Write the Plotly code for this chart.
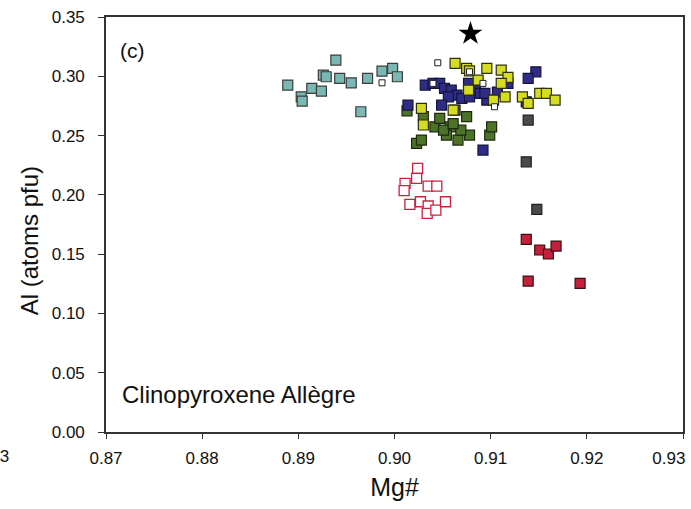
import plotly.graph_objects as go

# ---- data (Mg#, Al atoms pfu) ----
cyan_x = [0.8889, 0.8939, 0.8926, 0.8929, 0.8943, 0.8955, 0.8914, 0.8924, 0.8903, 0.8904,
          0.8972, 0.8987, 0.8998, 0.9003, 0.8965]
cyan_y = [0.2926, 0.3137, 0.3010, 0.2996, 0.2982, 0.2945, 0.2898, 0.2875, 0.2827, 0.2791,
          0.2982, 0.3044, 0.3067, 0.2996, 0.2701]

olive_x = [0.9013, 0.9030, 0.9042, 0.9047, 0.9063, 0.9075, 0.9058, 0.9054, 0.9066, 0.9078,
           0.9099, 0.9101, 0.9023, 0.9028, 0.9051, 0.9069, 0.9061]
olive_y = [0.2709, 0.2659, 0.2574, 0.2645, 0.2715, 0.2659, 0.2574, 0.2504, 0.2462, 0.2504,
           0.2504, 0.2574, 0.2434, 0.2462, 0.2546, 0.2546, 0.2600]

navy_x = [0.9032, 0.9040, 0.9047, 0.9052, 0.9059, 0.9065, 0.9070, 0.9078, 0.9084, 0.9089,
          0.9096, 0.9056, 0.9014, 0.9049, 0.9077, 0.9147, 0.9139, 0.9137, 0.9118, 0.9094,
          0.9092, 0.9107]
navy_y = [0.2926, 0.2940, 0.2940, 0.2898, 0.2884, 0.2841, 0.2814, 0.2827, 0.2884, 0.2856,
          0.2799, 0.2827, 0.2757, 0.2757, 0.2940, 0.3038, 0.2982, 0.2785, 0.2940, 0.2856,
          0.2378, 0.2867]

yellow_x = [0.9063, 0.9075, 0.9078, 0.9096, 0.9111, 0.9118, 0.9111, 0.9115, 0.9103, 0.9133,
            0.9151, 0.9158, 0.9167, 0.9139, 0.9077, 0.9061, 0.9028, 0.9030, 0.9087]
yellow_y = [0.3109, 0.3067, 0.3046, 0.3067, 0.3052, 0.2991, 0.2940, 0.2827, 0.2799, 0.2827,
            0.2856, 0.2856, 0.2799, 0.2772, 0.2884, 0.2715, 0.2729, 0.2589, 0.2968]

gray_x = [0.9139, 0.9137, 0.9148]
gray_y = [0.2631, 0.2279, 0.1878]

redopen_x = [0.9024, 0.9023, 0.9011, 0.9010, 0.9035, 0.9044, 0.9016, 0.9027, 0.9035, 0.9034,
             0.9043, 0.9053]
redopen_y = [0.2223, 0.2139, 0.2097, 0.2035, 0.2074, 0.2074, 0.1920, 0.1942, 0.1906, 0.1844,
             0.1872, 0.1942]

redfill_x = [0.9137, 0.9151, 0.9160, 0.9168, 0.9139, 0.9193]
redfill_y = [0.1625, 0.1535, 0.1501, 0.1568, 0.1273, 0.1254]

small_x = [0.8987, 0.9045, 0.9040, 0.9078, 0.9092, 0.9104]
small_y = [0.2945, 0.3114, 0.2940, 0.3038, 0.2940, 0.2743]

star_x = [0.9079]
star_y = [0.3360]

x_ticks = [0.87, 0.88, 0.89, 0.90, 0.91, 0.92, 0.93]
x_ticklabels = ["0.87", "0.88", "0.89", "0.90", "0.91", "0.92", "0.93" + "\u00a0" * 6]
y_ticks = [0.00, 0.05, 0.10, 0.15, 0.20, 0.25, 0.30, 0.35]
y_ticklabels = ["0.00", "0.05", "0.10", "0.15", "0.20", "0.25", "0.30", "0.35"]

FONT = "Liberation Sans, Arial, sans-serif"

fig = go.Figure()

def add(x, y, fill, edge, size=10, width=1.2, symbol="square"):
    fig.add_trace(go.Scatter(
        x=x, y=y, mode="markers", showlegend=False, hoverinfo="x+y", cliponaxis=False,
        marker=dict(symbol=symbol, size=size, color=fill,
                    line=dict(color=edge, width=width))))

add(cyan_x, cyan_y, "#79b8b3", "#3c3c3c")
add(olive_x, olive_y, "#4d7328", "#1e2a10")
add(navy_x, navy_y, "#2e2c86", "#15153a")
add(yellow_x, yellow_y, "#d6dc22", "#2e3010")
add(gray_x, gray_y, "#4a4a4c", "#202020")
add(redopen_x, redopen_y, "#ffffff", "#cc2040", size=10, width=1.3)
add(redfill_x, redfill_y, "#c4203c", "#3a1010")
add(small_x, small_y, "#ffffff", "#202020", size=6, width=1)
add(star_x, star_y, "#000000", "#000000", size=18, width=0, symbol="star")

fig.update_layout(
    width=691, height=509,
    margin=dict(l=106, r=8, t=17, b=77),
    paper_bgcolor="white", plot_bgcolor="white",
    font=dict(family=FONT, color="#111111", size=17),
    xaxis=dict(range=[0.8699999, 0.9300001], tickvals=x_ticks, ticktext=x_ticklabels,
               automargin=False, ticklabeloverflow="allow", ticklabelstandoff=5,
               showgrid=False, zeroline=False, showline=True, linecolor="#333333", linewidth=1.6,
               mirror=True, ticks="outside", ticklen=5, tickcolor="#333333", tickwidth=1.2,
               tickfont=dict(size=17, family=FONT),
               title=dict(text="Mg#", font=dict(size=25, family=FONT), standoff=11)),
    yaxis=dict(range=[0.0, 0.35], tickvals=y_ticks, ticktext=y_ticklabels,
               automargin=False, ticklabelstandoff=10, ticklabeloverflow="allow",
               showgrid=False, zeroline=False, showline=True, linecolor="#333333", linewidth=1.6,
               mirror=True, ticks="outside", ticklen=6, tickcolor="#333333", tickwidth=1.2,
               tickfont=dict(size=17, family=FONT)),
    annotations=[
        dict(text="Al (atoms pfu)", textangle=-90, xref="paper", yref="paper",
             x=-0.133, y=0.46, xanchor="center", yanchor="middle", showarrow=False,
             font=dict(size=24, family=FONT)),
        dict(text="(c)", xref="paper", yref="paper", x=0.02, y=0.92, xanchor="left",
             yanchor="middle", showarrow=False, font=dict(size=21, family=FONT)),
        dict(text="Clinopyroxene Allègre", xref="paper", yref="paper", x=0.024, y=0.09,
             xanchor="left", yanchor="middle", showarrow=False, font=dict(size=24, family=FONT)),
        dict(text="0.93", xref="paper", yref="paper", x=-0.165, y=-0.058, xanchor="right",
             yanchor="middle", showarrow=False, font=dict(size=17, family=FONT)),
    ],
)

fig.write_html("out.html", config={"displayModeBar": False},
               post_script="document.body.style.margin='0px';document.body.style.overflow='hidden';")
